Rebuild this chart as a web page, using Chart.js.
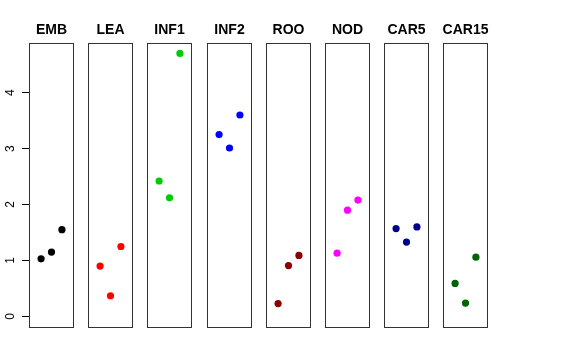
<!DOCTYPE html>
<html>
<head>
<meta charset="utf-8">
<script src="https://cdn.jsdelivr.net/npm/chart.js@4"></script>
<style>
  body { margin: 0; background: #fff; }
  #wrap { position: relative; width: 576px; height: 360px; background: #fff; }
  #wrap canvas { position: absolute; top: 0; left: 0; }
</style>
</head>
<body>
<div id="wrap"></div>
<script>
// panel names and point colours
const panels = ['EMB', 'LEA', 'INF1', 'INF2', 'ROO', 'NOD', 'CAR5', 'CAR15'];
const colors = ['#000000', '#ff0000', '#00cd00', '#0000ff', '#8b0000', '#ff00ff', '#00008b', '#006400'];

// x position of the three points inside every panel
const xPos = [1, 2, 3];

// y values, one array per panel
const EMB = [1.03, 1.15, 1.55];
const LEA = [0.90, 0.37, 1.25];
const INF1 = [2.42, 2.12, 4.70];
const INF2 = [3.25, 3.01, 3.60];
const ROO = [0.23, 0.91, 1.09];
const NOD = [1.13, 1.90, 2.08];
const CAR5 = [1.57, 1.33, 1.60];
const CAR15 = [0.59, 0.24, 1.06];
const series = [EMB, LEA, INF1, INF2, ROO, NOD, CAR5, CAR15];

const yTicks = [0, 1, 2, 3, 4];

const wrap = document.getElementById('wrap');

// box around the plot area
const panelBox = {
    id: 'panelBox',
    afterDraw(chart) {
        const { ctx, chartArea: a } = chart;
        ctx.save();
        ctx.strokeStyle = '#333';
        ctx.lineWidth = 1;
        ctx.strokeRect(a.left + 0.5, a.top + 0.5, a.right - a.left - 1, a.bottom - a.top - 1);
        ctx.restore();
    }
};

// bold title centred over the panel
const panelTitle = {
    id: 'panelTitle',
    afterDraw(chart, args, opts) {
        const { ctx, chartArea: a } = chart;
        ctx.save();
        ctx.font = 'bold 14px "Liberation Sans", Arial, sans-serif';
        ctx.fillStyle = '#000';
        ctx.textAlign = 'center';
        ctx.textBaseline = 'alphabetic';
        ctx.fillText(opts.text, (a.left + a.right) / 2, a.top - 9);
        ctx.restore();
    }
};

panels.forEach((name, i) => {
    const first = i === 0;
    const panelLeft = Math.round(29 + 59.18 * i);
    const canvas = document.createElement('canvas');
    canvas.width = 576;
    canvas.height = 332;
    wrap.appendChild(canvas);

    new Chart(canvas, {
        type: 'scatter',
        data: {
            datasets: [{
                data: xPos.map((x, j) => ({ x: x, y: series[i][j] })),
                backgroundColor: colors[i],
                borderWidth: 0,
                pointRadius: 3.6,
            }],
        },
        options: {
            responsive: false,
            animation: false,
            layout: {
                padding: { top: 43, left: first ? 0 : panelLeft, right: 576 - panelLeft - 45, bottom: 0 }
            },
            plugins: {
                legend: { display: false },
                tooltip: { enabled: false },
                panelTitle: { text: name },
            },
            scales: {
                x: { display: false, min: -0.16, max: 4.16 },
                y: {
                    display: first,
                    min: -0.206,
                    max: 4.886,
                    afterBuildTicks: s => { s.ticks = yTicks.map(v => ({ value: v })); },
                    afterFit: s => {
                        s.width = first ? 29 : 0;
                        s.paddingTop = 0;
                        s.paddingBottom = 0;
                    },
                    grid: { drawOnChartArea: false, tickLength: 7, color: '#000' },
                    border: { display: false },
                    ticks: {
                        minRotation: 90,
                        maxRotation: 90,
                        crossAlign: 'center',
                        padding: 8,
                        color: '#000',
                        font: { family: '"Liberation Sans", Arial, sans-serif', size: 12 },
                    },
                },
            },
        },
        plugins: [panelBox, panelTitle],
    });
});
</script>
</body>
</html>
